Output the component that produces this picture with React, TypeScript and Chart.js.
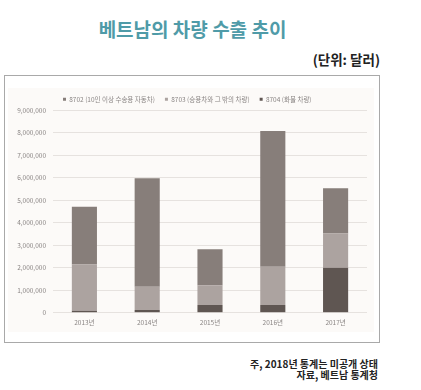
import React, { useEffect, useRef } from "react";
import { Chart, registerables } from "chart.js";

Chart.register(...registerables);

const years = ["2013년", "2014년", "2015년", "2016년", "2017년"];
const labels8702 = "8702 (10인 이상 수송용 자동차)";
const labels8703 = "8703 (승용차와 그 밖의 차량)";
const labels8704 = "8704 (화물 차량)";
const values8702 = [2570000, 4820000, 1600000, 6040000, 2010000];
const values8703 = [2060000, 1040000, 880000, 1710000, 1530000];
const values8704 = [90000, 120000, 340000, 340000, 2000000];
const yMax = 9000000;
const yStep = 1000000;

const FONT = "'Noto Sans CJK KR', 'Noto Sans', sans-serif";

const legendShrink = {
  id: "legendShrink",
  beforeLayout(chart: any) {
    const lg = chart.legend;
    if (lg && !lg._patched) {
      const f = lg.fit.bind(lg);
      lg.fit = () => {
        f();
        lg.height = lg.height - 2;
      };
      lg._patched = true;
    }
  },
};

export default function App() {
  const ref = useRef<HTMLCanvasElement | null>(null);
  useEffect(() => {
    if (!ref.current) return;
    const chart = new Chart(ref.current, {
      type: "bar",
      data: {
        labels: years,
        datasets: [
          { label: labels8704, data: values8704, backgroundColor: "#5f5652" },
          { label: labels8703, data: values8703, backgroundColor: "#aca3a0" },
          { label: labels8702, data: values8702, backgroundColor: "#877e7a" },
        ],
      },
      options: {
        animation: false,
        responsive: false,
        maintainAspectRatio: false,
        layout: { padding: { left: 0, right: 11, top: 6, bottom: 7.3 } },
        datasets: { bar: { barPercentage: 0.4, categoryPercentage: 1 } },
        plugins: {
          tooltip: { enabled: false },
          legend: {
            position: "top",
            align: "start",
            fullSize: false,
            reverse: true,
            labels: {
              boxWidth: 3,
              boxHeight: 3,
              padding: 10,
              color: "#8a8584",
              font: { size: 6.5, family: FONT },
            },
          },
        },
        scales: {
          x: {
            stacked: true,
            grid: { display: false, drawTicks: false },
            border: { display: false },
            ticks: { color: "#8a8584", padding: 6, font: { size: 6.5, family: FONT } },
            afterFit: (s: any) => { s.height = 20; },
          },
          y: {
            stacked: true,
            min: 0,
            max: yMax,
            grid: { color: "#e6e2df", lineWidth: 1, drawTicks: false },
            border: { display: false },
            ticks: {
              stepSize: yStep,
              color: "#8a8584",
              padding: 7,
              font: { size: 6.5, family: FONT },
              callback: (v: any) => Number(v).toLocaleString("en-US"),
            },
            afterFit: (s: any) => { s.width = 47; },
          },
        },
      },
      plugins: [legendShrink],
    });
    return () => chart.destroy();
  }, []);

  return (
    <div style={{ position: "absolute", left: 0, top: 0, width: 421, height: 390, background: "#fff", fontFamily: FONT }}>
      <div style={{ position: "absolute", left: 0, top: 17, width: 385, textAlign: "center", fontSize: 19, lineHeight: "24px", fontWeight: 700, color: "#4f9ba8" }}>
        베트남의 차량 수출 추이
      </div>
      <div style={{ position: "absolute", right: 41, top: 51, fontSize: 13.5, lineHeight: "16px", fontWeight: 700, color: "#222" }}>
        (단위: 달러)
      </div>
      <div style={{ position: "absolute", left: 4, top: 75, width: 376, height: 268, boxSizing: "border-box", border: "1.5px solid #a9a9a9" }} />
      <div style={{ position: "absolute", left: 8, top: 88, width: 366, height: 244, background: "#fcfaf8" }} />
      <canvas ref={ref} width={372} height={260} style={{ position: "absolute", left: 6, top: 80, width: 372, height: 260 }} />
      <div style={{ position: "absolute", right: 43, top: 358, textAlign: "right", fontSize: 10, lineHeight: "11px", fontWeight: 700, color: "#222" }}>
        주, 2018년 통계는 미공개 상태<br />자료, 베트남 통계청
      </div>
    </div>
  );
}
